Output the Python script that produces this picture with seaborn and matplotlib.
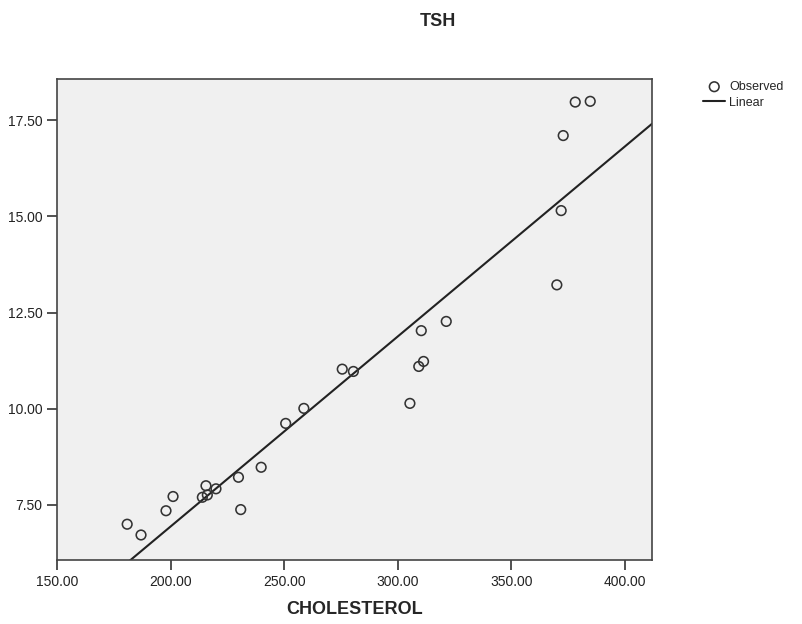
import numpy as np
import pandas as pd
import matplotlib
matplotlib.use('Agg')
import matplotlib.pyplot as plt
import seaborn as sns

# values
cholesterol = [180.9, 187.0, 198.0, 201.1, 214.0, 215.6, 216.2, 220.0, 229.9, 230.9,
               239.9, 250.7, 258.7, 275.6, 280.5, 305.4, 309.3, 311.4, 310.4, 321.4,
               370.1, 372.0, 372.9, 378.2, 384.8]
tsh = [7.00, 6.72, 7.35, 7.72, 7.70, 8.00, 7.76, 7.92, 8.22, 7.38,
       8.48, 9.62, 10.01, 11.03, 10.97, 10.14, 11.10, 11.23, 12.03, 12.27,
       13.22, 15.15, 17.10, 17.97, 17.99]
x_ticks = [150, 200, 250, 300, 350, 400]
y_ticks = [7.5, 10.0, 12.5, 15.0, 17.5]

df = pd.DataFrame({'CHOLESTEROL': cholesterol, 'TSH': tsh})

sns.set_style('ticks')
plt.rcParams['font.family'] = ['Liberation Sans', 'DejaVu Sans']

fig = plt.figure(figsize=(8.03, 6.24), dpi=100)
ax = fig.add_axes([57 / 803, 1 - 560 / 624, (652 - 57) / 803, (560 - 79) / 624])
ax.set_facecolor('#f0f0f0')
ax.set_xlim(150, 412)
ax.set_ylim(6.07, 18.57)

sns.scatterplot(data=df, x='CHOLESTEROL', y='TSH', ax=ax, marker='o', s=48,
                facecolor='none', edgecolor='#333333', linewidth=1.15,
                label='Observed', zorder=3)
# fit line spans the full x range, like the original
sns.regplot(data=df, x='CHOLESTEROL', y='TSH', ax=ax, scatter=False, ci=None,
            truncate=False, label='Linear',
            line_kws={'color': '#222222', 'linewidth': 1.5})
ax.set_xlim(150, 412)
ax.set_ylim(6.07, 18.57)

ax.set_xticks(x_ticks)
ax.set_xticklabels(['%.2f' % v for v in x_ticks])
ax.set_yticks(y_ticks)
ax.set_yticklabels(['%.2f' % v for v in y_ticks])
ax.tick_params(direction='out', length=7, width=1.2, colors='#333333', labelsize=10,
               labelcolor='#222222')
for side in ax.spines.values():
    side.set_color('#444444')
    side.set_linewidth(1.2)

ax.set_xlabel('CHOLESTEROL', fontsize=13, fontweight='bold', labelpad=9)
ax.set_ylabel('')
fig.text(438 / 803, 1 - 22 / 624, 'TSH', fontsize=13, fontweight='bold',
         ha='center', va='center')

if ax.legend_:
    ax.legend_.remove()
handles, labels = ax.get_legend_handles_labels()
fig.legend(handles, labels, loc='upper left', bbox_to_anchor=(698 / 803, 1 - 76 / 624),
           frameon=False, fontsize=9, handlelength=1.8, handletextpad=0.3,
           labelspacing=0.3, borderaxespad=0)

fig.savefig('out.png', dpi=100, facecolor='white')
